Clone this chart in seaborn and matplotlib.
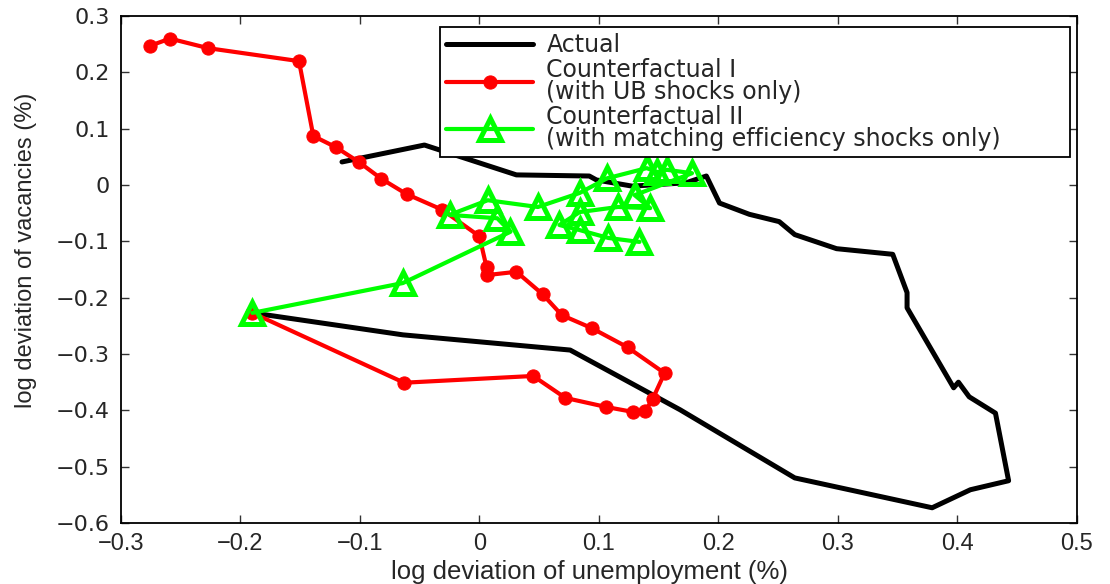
import matplotlib
matplotlib.use("Agg")
import matplotlib.pyplot as plt
import seaborn as sns

# ---- data ----
actual_x = [-0.190, -0.064, 0.076, 0.168, 0.264, 0.379, 0.411, 0.443, 0.432, 0.410,
            0.401, 0.397, 0.358, 0.358, 0.346, 0.299, 0.264, 0.251, 0.226, 0.201,
            0.190, 0.173, 0.128, 0.098, 0.092, 0.031, -0.046, -0.115]
actual_y = [-0.227, -0.266, -0.293, -0.399, -0.520, -0.573, -0.541, -0.525, -0.405, -0.376,
            -0.350, -0.360, -0.218, -0.191, -0.123, -0.113, -0.088, -0.065, -0.052, -0.032,
            0.016, 0.004, -0.002, 0.009, 0.016, 0.018, 0.071, 0.041]

cf1_x = [-0.190, -0.063, 0.045, 0.072, 0.106, 0.129, 0.139, 0.145, 0.155, 0.124,
         0.094, 0.069, 0.053, 0.031, 0.006, 0.006, 0.000, -0.031, -0.061, -0.082,
         -0.101, -0.120, -0.139, -0.151, -0.227, -0.259, -0.276]
cf1_y = [-0.227, -0.351, -0.339, -0.378, -0.394, -0.403, -0.401, -0.380, -0.334, -0.288,
         -0.254, -0.231, -0.194, -0.154, -0.160, -0.146, -0.091, -0.044, -0.016, 0.011,
         0.041, 0.067, 0.087, 0.220, 0.243, 0.260, 0.247]

cf2_x = [-0.190, -0.064, 0.026, 0.015, -0.025, 0.007, 0.049, 0.084, 0.107, 0.140,
         0.149, 0.157, 0.178, 0.130, 0.143, 0.116, 0.084, 0.067, 0.084, 0.108, 0.134]
cf2_y = [-0.227, -0.174, -0.083, -0.059, -0.053, -0.027, -0.039, -0.014, 0.012, 0.030,
         0.023, 0.027, 0.021, -0.018, -0.041, -0.039, -0.048, -0.071, -0.080, -0.094, -0.101]

series_labels = ["Actual",
                 "Counterfactual I\n(with UB shocks only)",
                 "Counterfactual II\n(with matching efficiency shocks only)"]

x_ticks = [-0.3, -0.2, -0.1, 0.0, 0.1, 0.2, 0.3, 0.4, 0.5]
x_tick_labels = ["\u22120.3", "\u22120.2", "\u22120.1", "0", "0.1", "0.2", "0.3", "0.4", "0.5"]
y_ticks = [-0.6, -0.5, -0.4, -0.3, -0.2, -0.1, 0.0, 0.1, 0.2, 0.3]
y_tick_labels = ["\u22120.6", "\u22120.5", "\u22120.4", "\u22120.3", "\u22120.2", "\u22120.1",
                 "0", "0.1", "0.2", "0.3"]

x_label = "log deviation of unemployment (%)"
y_label = "log deviation of vacancies (%)"

# ---- style ----
sns.set_theme(style="white")
plt.rcParams["font.family"] = ["Liberation Sans", "DejaVu Sans"]

fig = plt.figure(figsize=(11.10, 5.84), dpi=100)
ax = fig.add_axes([0.109, 0.1045, 0.861, 0.868])

sns.lineplot(x=actual_x, y=actual_y, sort=False, estimator=None, color="black",
             linewidth=3.6, label=series_labels[0], ax=ax)
sns.lineplot(x=cf1_x, y=cf1_y, sort=False, estimator=None, color="#ff0000",
             linewidth=3.0, marker="o", markersize=9.5, markeredgecolor="#ff0000",
             markerfacecolor="#ff0000", label=series_labels[1], ax=ax)
sns.lineplot(x=cf2_x, y=cf2_y, sort=False, estimator=None, color="#00ff00",
             linewidth=3.0, marker="^", markersize=16, markeredgecolor="#00ff00",
             markerfacecolor="none", markeredgewidth=3.6, label=series_labels[2], ax=ax)

ax.set_xlim(-0.3, 0.5)
ax.set_ylim(-0.6, 0.3)
ax.set_xticks(x_ticks)
ax.set_xticklabels(x_tick_labels, fontsize=17, family=["Liberation Sans", "DejaVu Sans"])
ax.set_yticks(y_ticks)
ax.set_yticklabels(y_tick_labels, fontsize=16, family=["DejaVu Sans"])

ax.tick_params(axis="both", which="major", direction="in", length=6, width=1,
               color="#333333", top=True, right=True, bottom=True, left=True)
ax.tick_params(axis="x", pad=7)
ax.tick_params(axis="y", pad=8)

for sp in ax.spines.values():
    sp.set_visible(True)
    sp.set_color("black")
    sp.set_linewidth(1.3)

ax.set_xlabel(x_label, fontsize=18.5, family=["Liberation Sans", "DejaVu Sans"])
ax.set_ylabel(y_label, fontsize=17, family=["Liberation Sans", "DejaVu Sans"])
ax.xaxis.set_label_coords(0.49, -0.074)
ax.yaxis.set_label_coords(-0.088, 0.538)

leg = ax.legend(loc="upper left", bbox_to_anchor=(0.334, 0.726, 0.659, 0.252),
                mode="expand", borderaxespad=0, fancybox=False, framealpha=1,
                edgecolor="black", prop={"family": "DejaVu Sans", "size": 17},
                handlelength=3.7, handletextpad=0.55, labelspacing=0.02,
                borderpad=0.25)
leg.get_frame().set_linewidth(1.3)
for t in leg.get_texts():
    t.set_linespacing(0.92)

fig.savefig("out.png", dpi=100)
